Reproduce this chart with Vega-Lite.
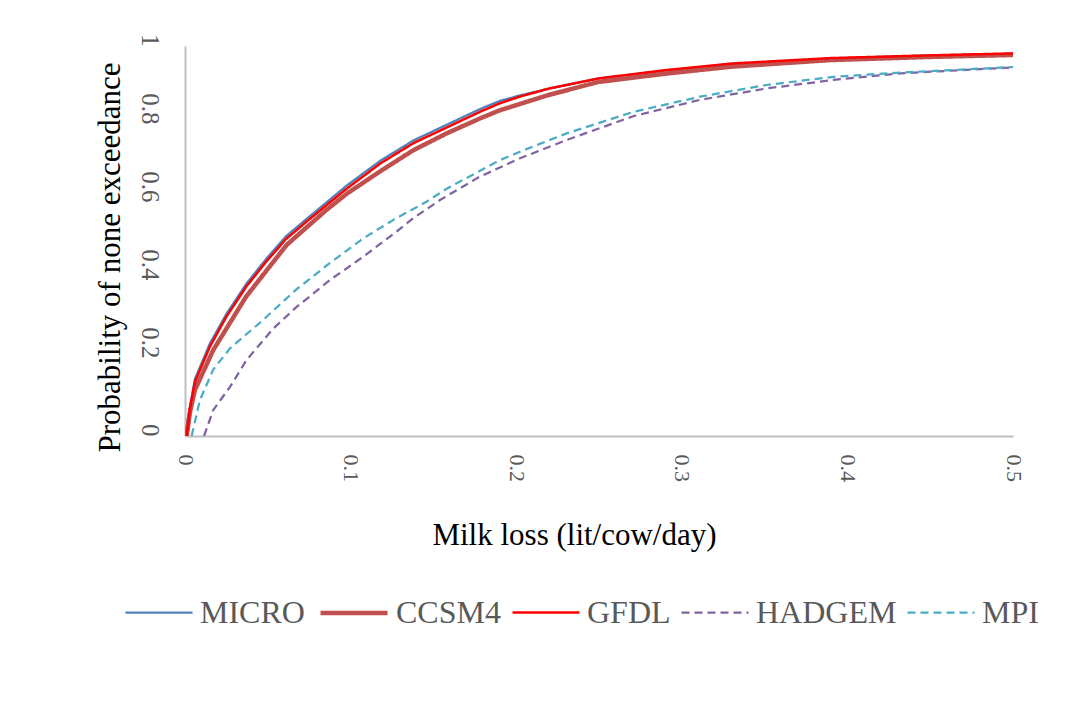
{
  "$schema": "https://vega.github.io/schema/vega-lite/v6.json",
  "width": 828,
  "height": 390,
  "autosize": {"type": "none"},
  "padding": {"left": 185, "top": 46, "right": 74, "bottom": 272},
  "background": "#ffffff",
  "config": {
    "view": {"stroke": null},
    "font": "Liberation Serif",
    "axis": {
      "domainColor": "#BFBFBF",
      "domainWidth": 2,
      "ticks": false,
      "grid": false,
      "labelFont": "Liberation Serif",
      "labelFontSize": 22,
      "labelColor": "#595959",
      "titleFont": "Liberation Serif",
      "titleFontSize": 31,
      "titleFontWeight": "normal",
      "titleColor": "#000000",
      "labelOverlap": false,
      "labelFlush": false
    },
    "legend": {
      "labelFont": "Liberation Serif",
      "labelFontSize": 32,
      "labelColor": "#595959",
      "labelLimit": 0,
      "padding": 0
    }
  },
  "data": {
    "values": [
      {"s": "MICRO", "x": 0, "p": 0},
      {"s": "MICRO", "x": 0.003, "p": 0.076},
      {"s": "MICRO", "x": 0.006, "p": 0.146},
      {"s": "MICRO", "x": 0.015, "p": 0.237},
      {"s": "MICRO", "x": 0.025, "p": 0.313},
      {"s": "MICRO", "x": 0.037, "p": 0.39},
      {"s": "MICRO", "x": 0.049, "p": 0.454},
      {"s": "MICRO", "x": 0.061, "p": 0.512},
      {"s": "MICRO", "x": 0.0735, "p": 0.557},
      {"s": "MICRO", "x": 0.0855, "p": 0.599},
      {"s": "MICRO", "x": 0.0976, "p": 0.642},
      {"s": "MICRO", "x": 0.118, "p": 0.706},
      {"s": "MICRO", "x": 0.138, "p": 0.758},
      {"s": "MICRO", "x": 0.158, "p": 0.798},
      {"s": "MICRO", "x": 0.178, "p": 0.838},
      {"s": "MICRO", "x": 0.19, "p": 0.859},
      {"s": "MICRO", "x": 0.202, "p": 0.873},
      {"s": "MICRO", "x": 0.22, "p": 0.891},
      {"s": "MICRO", "x": 0.25, "p": 0.917},
      {"s": "MICRO", "x": 0.29, "p": 0.937},
      {"s": "MICRO", "x": 0.33, "p": 0.954},
      {"s": "MICRO", "x": 0.39, "p": 0.968},
      {"s": "MICRO", "x": 0.45, "p": 0.976},
      {"s": "MICRO", "x": 0.5, "p": 0.98},

      {"s": "CCSM4", "x": 0.001, "p": 0},
      {"s": "CCSM4", "x": 0.003, "p": 0.061},
      {"s": "CCSM4", "x": 0.006, "p": 0.118},
      {"s": "CCSM4", "x": 0.017, "p": 0.22},
      {"s": "CCSM4", "x": 0.037, "p": 0.358},
      {"s": "CCSM4", "x": 0.0614, "p": 0.49},
      {"s": "CCSM4", "x": 0.0855, "p": 0.58},
      {"s": "CCSM4", "x": 0.0976, "p": 0.621},
      {"s": "CCSM4", "x": 0.118, "p": 0.679},
      {"s": "CCSM4", "x": 0.138, "p": 0.733},
      {"s": "CCSM4", "x": 0.158, "p": 0.776},
      {"s": "CCSM4", "x": 0.178, "p": 0.814},
      {"s": "CCSM4", "x": 0.19, "p": 0.835},
      {"s": "CCSM4", "x": 0.202, "p": 0.851},
      {"s": "CCSM4", "x": 0.22, "p": 0.875},
      {"s": "CCSM4", "x": 0.25, "p": 0.908},
      {"s": "CCSM4", "x": 0.29, "p": 0.929},
      {"s": "CCSM4", "x": 0.33, "p": 0.947},
      {"s": "CCSM4", "x": 0.39, "p": 0.964},
      {"s": "CCSM4", "x": 0.45, "p": 0.972},
      {"s": "CCSM4", "x": 0.5, "p": 0.977},

      {"s": "GFDL", "x": 0.001, "p": 0},
      {"s": "GFDL", "x": 0.003, "p": 0.071},
      {"s": "GFDL", "x": 0.006, "p": 0.139},
      {"s": "GFDL", "x": 0.015, "p": 0.229},
      {"s": "GFDL", "x": 0.025, "p": 0.306},
      {"s": "GFDL", "x": 0.037, "p": 0.383},
      {"s": "GFDL", "x": 0.049, "p": 0.447},
      {"s": "GFDL", "x": 0.061, "p": 0.505},
      {"s": "GFDL", "x": 0.0735, "p": 0.55},
      {"s": "GFDL", "x": 0.0855, "p": 0.592},
      {"s": "GFDL", "x": 0.0976, "p": 0.634},
      {"s": "GFDL", "x": 0.118, "p": 0.699},
      {"s": "GFDL", "x": 0.138, "p": 0.751},
      {"s": "GFDL", "x": 0.158, "p": 0.791},
      {"s": "GFDL", "x": 0.178, "p": 0.831},
      {"s": "GFDL", "x": 0.19, "p": 0.853},
      {"s": "GFDL", "x": 0.202, "p": 0.87},
      {"s": "GFDL", "x": 0.22, "p": 0.891},
      {"s": "GFDL", "x": 0.25, "p": 0.917},
      {"s": "GFDL", "x": 0.29, "p": 0.938},
      {"s": "GFDL", "x": 0.33, "p": 0.955},
      {"s": "GFDL", "x": 0.39, "p": 0.969},
      {"s": "GFDL", "x": 0.45, "p": 0.976},
      {"s": "GFDL", "x": 0.5, "p": 0.981},

      {"s": "HADGEM", "x": 0.0115, "p": 0},
      {"s": "HADGEM", "x": 0.0171, "p": 0.067},
      {"s": "HADGEM", "x": 0.0272, "p": 0.126},
      {"s": "HADGEM", "x": 0.0372, "p": 0.195},
      {"s": "HADGEM", "x": 0.0534, "p": 0.276},
      {"s": "HADGEM", "x": 0.0674, "p": 0.331},
      {"s": "HADGEM", "x": 0.0876, "p": 0.4},
      {"s": "HADGEM", "x": 0.1077, "p": 0.46},
      {"s": "HADGEM", "x": 0.128, "p": 0.525},
      {"s": "HADGEM", "x": 0.138, "p": 0.559},
      {"s": "HADGEM", "x": 0.154, "p": 0.605},
      {"s": "HADGEM", "x": 0.178, "p": 0.665},
      {"s": "HADGEM", "x": 0.2023, "p": 0.712},
      {"s": "HADGEM", "x": 0.2305, "p": 0.759},
      {"s": "HADGEM", "x": 0.2707, "p": 0.82},
      {"s": "HADGEM", "x": 0.311, "p": 0.862},
      {"s": "HADGEM", "x": 0.351, "p": 0.891},
      {"s": "HADGEM", "x": 0.3915, "p": 0.913},
      {"s": "HADGEM", "x": 0.432, "p": 0.93},
      {"s": "HADGEM", "x": 0.5, "p": 0.945},

      {"s": "MPI", "x": 0.004, "p": 0},
      {"s": "MPI", "x": 0.009, "p": 0.092},
      {"s": "MPI", "x": 0.017, "p": 0.17},
      {"s": "MPI", "x": 0.027, "p": 0.224},
      {"s": "MPI", "x": 0.047, "p": 0.297},
      {"s": "MPI", "x": 0.067, "p": 0.375},
      {"s": "MPI", "x": 0.0876, "p": 0.444},
      {"s": "MPI", "x": 0.1077, "p": 0.507},
      {"s": "MPI", "x": 0.1278, "p": 0.559},
      {"s": "MPI", "x": 0.146, "p": 0.601},
      {"s": "MPI", "x": 0.158, "p": 0.634},
      {"s": "MPI", "x": 0.19, "p": 0.707},
      {"s": "MPI", "x": 0.2023, "p": 0.729},
      {"s": "MPI", "x": 0.2305, "p": 0.776},
      {"s": "MPI", "x": 0.2707, "p": 0.831},
      {"s": "MPI", "x": 0.311, "p": 0.87},
      {"s": "MPI", "x": 0.351, "p": 0.9},
      {"s": "MPI", "x": 0.3915, "p": 0.921},
      {"s": "MPI", "x": 0.432, "p": 0.932},
      {"s": "MPI", "x": 0.5, "p": 0.946}
    ]
  },
  "mark": {"type": "line", "strokeCap": "butt", "strokeJoin": "round", "clip": true},
  "encoding": {
    "x": {
      "field": "x",
      "type": "quantitative",
      "scale": {"domain": [0, 0.5], "nice": false, "zero": true},
      "axis": {
        "values": [0, 0.1, 0.2, 0.3, 0.4, 0.5],
        "format": "~g",
        "labelAngle": 90,
        "labelAlign": "left",
        "labelBaseline": "middle",
        "labelPadding": 18,
        "title": "Milk loss (lit/cow/day)",
        "titleX": 389,
        "titleY": 108,
        "titleAlign": "center",
        "titleBaseline": "alphabetic"
      }
    },
    "y": {
      "field": "p",
      "type": "quantitative",
      "scale": {"domain": [0, 1], "nice": false},
      "axis": {
        "values": [0, 0.2, 0.4, 0.6, 0.8, 1],
        "format": "~g",
        "labelFontSize": 25,
        "labelAngle": 90,
        "labelAlign": "right",
        "labelBaseline": "middle",
        "labelPadding": 36,
        "title": "Probability of none exceedance",
        "titleAngle": -90,
        "titleX": -66,
        "titleY": 211,
        "titleAlign": "center",
        "titleBaseline": "alphabetic"
      }
    },
    "color": {
      "field": "s",
      "type": "nominal",
      "scale": {
        "domain": ["MICRO", "CCSM4", "GFDL", "HADGEM", "MPI"],
        "range": ["#4F81BD", "#C0504D", "#FF0000", "#8064A2", "#4BACC6"]
      },
      "legend": {
        "orient": "none",
        "direction": "horizontal",
        "legendX": -61,
        "legendY": 531,
        "title": null,
        "symbolType": "stroke",
        "symbolSize": 4489,
        "labelOffset": 6,
        "columnPadding": 6
      }
    },
    "strokeDash": {
      "field": "s",
      "type": "nominal",
      "scale": {
        "domain": ["MICRO", "CCSM4", "GFDL", "HADGEM", "MPI"],
        "range": [[1, 0], [1, 0], [1, 0], [8, 5], [8, 5]]
      }
    },
    "strokeWidth": {
      "field": "s",
      "type": "nominal",
      "scale": {
        "type": "ordinal",
        "domain": ["MICRO", "CCSM4", "GFDL", "HADGEM", "MPI"],
        "range": [2.25, 4.5, 2.5, 2.25, 2.25]
      }
    }
  }
}
